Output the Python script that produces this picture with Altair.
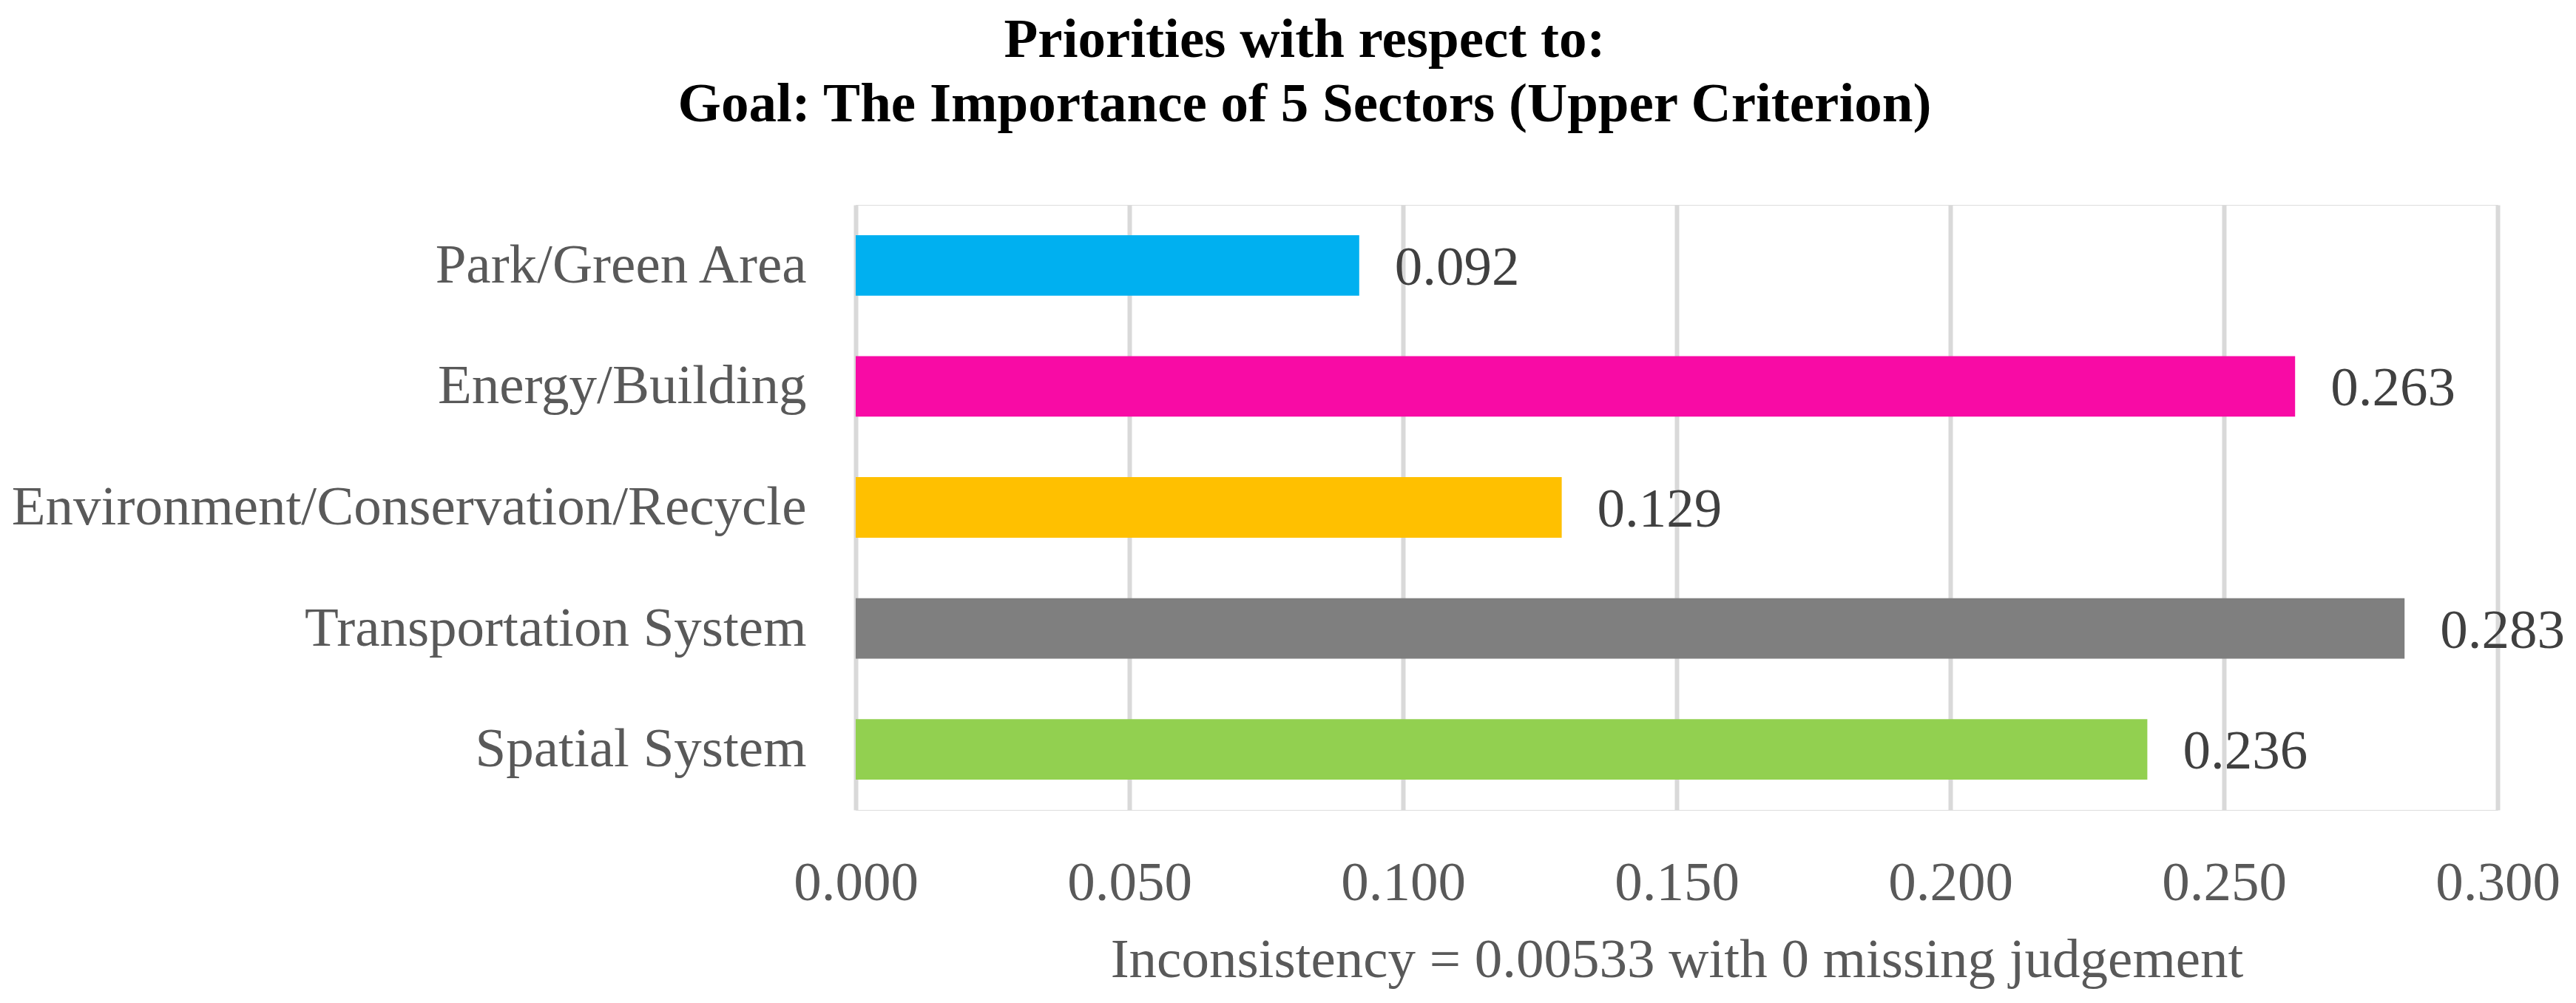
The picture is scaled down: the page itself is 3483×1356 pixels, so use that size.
import altair as alt
import pandas as pd

categories = ["Park/Green Area", "Energy/Building", "Environment/Conservation/Recycle",
              "Transportation System", "Spatial System"]
values = [0.092, 0.263, 0.129, 0.283, 0.236]
colors = ["#00B0F0", "#F80BA5", "#FFC000", "#7F7F7F", "#92D050"]
x_ticks = [0.0, 0.05, 0.10, 0.15, 0.20, 0.25, 0.30]
title_lines = ["Priorities with respect to:", "Goal: The Importance of 5 Sectors (Upper Criterion)"]
x_title = "Inconsistency = 0.00533 with 0 missing judgement"

df = pd.DataFrame({"category": categories, "value": values,
                   "label": [f"{v:.3f}" for v in values]})

FONT = "Liberation Serif"

y_enc = alt.Y("category:N", sort=categories, title=None,
              scale=alt.Scale(paddingInner=0.5, paddingOuter=0.25),
              axis=alt.Axis(domain=False, ticks=False, tickSize=0, labelPadding=67, grid=False,
                            labelFont=FONT, labelFontSize=75, labelColor="#595959",
                            labelLimit=2000))
x_enc = alt.X("value:Q", title=x_title,
              scale=alt.Scale(domain=[0, 0.3], nice=False),
              axis=alt.Axis(values=x_ticks, format=".3f", domain=False, ticks=False, tickSize=0,
                            grid=True, gridColor="#D9D9D9", gridWidth=6,
                            labelFont=FONT, labelFontSize=75, labelColor="#595959",
                            labelBaseline="alphabetic", labelPadding=121, labelFlush=False,
                            titleFont=FONT, titleFontSize=75, titleColor="#595959",
                            titleFontWeight="normal", titleBaseline="alphabetic", titleY=225))

bars = alt.Chart(df).mark_bar().encode(
    x=x_enc,
    y=y_enc,
    color=alt.Color("category:N", scale=alt.Scale(domain=categories, range=colors), legend=None),
)

text = alt.Chart(df).mark_text(align="left", baseline="alphabetic", dx=48, dy=26,
                               font=FONT, fontSize=75, color="#404040").encode(
    x=alt.X("value:Q"),
    y=alt.Y("category:N", sort=categories),
    text="label:N",
)

chart = alt.layer(bars, text).properties(
    width=2220,
    height=818,
    title=alt.TitleParams(text=title_lines, font=FONT, fontSize=75, fontWeight="bold",
                          color="#000000", anchor="middle", frame="group", dx=-503,
                          offset=97, lineHeight=87),
    autosize=alt.AutoSizeParams(type="none"),
    padding={"left": 1149, "top": 269, "right": 98, "bottom": 253},
).configure_view(stroke="transparent", strokeWidth=0).configure(background="white")

chart.save("out.html", embed_options={"renderer": "svg", "actions": False})
